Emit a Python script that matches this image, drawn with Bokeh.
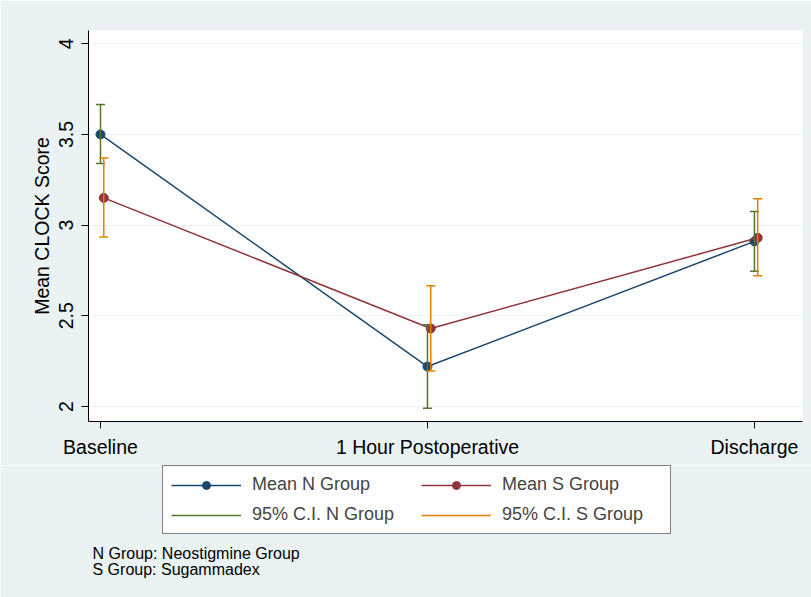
from bokeh.plotting import figure
from bokeh.layouts import column
from bokeh.models import (ColumnDataSource, FixedTicker, NumeralTickFormatter, Range1d,
                          Legend, LegendItem, Label)
from bokeh.embed import file_html
from bokeh.resources import INLINE

# ---- data ----
timepoints = ["Baseline", "1 Hour Postoperative", "Discharge"]
time_index = [0, 1, 2]

n_mean = [3.50, 2.22, 2.91]
n_lower = [3.34, 1.99, 2.745]
n_upper = [3.665, 2.45, 3.075]

s_mean = [3.15, 2.43, 2.93]
s_lower = [2.935, 2.195, 2.72]
s_upper = [3.37, 2.665, 3.145]

y_ticks = [2, 2.5, 3, 3.5, 4]
legend_labels = ["Mean N Group", "Mean S Group", "95% C.I. N Group", "95% C.I. S Group"]
notes = ["N Group: Neostigmine Group", "S Group: Sugammadex"]

# ---- style ----
BG = "#EAF2F3"
NAVY = "#1a476f"
MAROON = "#90353b"
GREEN = "#55752f"
ORANGE = "#e37e00"
FONT = "Liberation Sans"
DODGE = 0.01

n_x = list(time_index)
s_x = [t + DODGE for t in time_index]

src_n = ColumnDataSource(dict(x=n_x, m=n_mean, lo=n_lower, hi=n_upper))
src_s = ColumnDataSource(dict(x=s_x, m=s_mean, lo=s_lower, hi=s_upper))

p = figure(width=811, height=465, output_backend="svg", toolbar_location=None,
           x_range=Range1d(-0.0367, 2.147), y_range=Range1d(1.917, 4.073),
           min_border_left=88, min_border_right=9, min_border_top=30, min_border_bottom=44)
p.border_fill_color = BG
p.background_fill_color = "white"
p.outline_line_color = None

# mean lines + markers
p.line("x", "m", source=src_n, line_color=NAVY, line_width=1.5)
p.scatter("x", "m", source=src_n, size=9, fill_color=NAVY, line_color=NAVY)
p.line("x", "m", source=src_s, line_color=MAROON, line_width=1.5)
p.scatter("x", "m", source=src_s, size=9, fill_color=MAROON, line_color=MAROON)

# confidence intervals
for src, col in ((src_n, GREEN), (src_s, ORANGE)):
    p.segment("x", "lo", "x", "hi", source=src, line_color=col, line_width=1.5)
    p.scatter("x", "lo", source=src, marker="dash", size=9, line_color=col, line_width=1.5)
    p.scatter("x", "hi", source=src, marker="dash", size=9, line_color=col, line_width=1.5)

# axes
p.xaxis.ticker = FixedTicker(ticks=time_index)
p.xaxis.major_label_overrides = {i: t for i, t in zip(time_index, timepoints)}
p.yaxis.ticker = FixedTicker(ticks=y_ticks)
p.yaxis.formatter = NumeralTickFormatter(format="0.[0]")
p.yaxis.major_label_orientation = "vertical"
p.yaxis.axis_label = "Mean CLOCK Score"

for ax in (p.xaxis[0], p.yaxis[0]):
    ax.axis_line_color = "black"
    ax.axis_line_width = 1
    ax.major_tick_line_color = "black"
    ax.major_tick_out = 7
    ax.major_tick_in = 0
    ax.minor_tick_line_color = None
    ax.major_label_text_font = FONT
    ax.major_label_text_font_size = "19.5px"
    ax.major_label_text_color = "black"
    ax.axis_label_text_font = FONT
    ax.axis_label_text_font_size = "19.5px"
    ax.axis_label_text_font_style = "normal"
    ax.axis_label_text_color = "black"
p.xaxis.major_label_standoff = 7
p.yaxis.major_label_standoff = 8
p.yaxis.axis_label_standoff = 4

p.xgrid.grid_line_color = None
p.ygrid.grid_line_color = BG
p.ygrid.grid_line_width = 1.2

# ---- legend + notes panel (x in page pixels, y from panel bottom) ----
q = figure(width=811, height=132, output_backend="svg", toolbar_location=None,
           x_range=Range1d(0, 811), y_range=Range1d(0, 132),
           x_axis_location=None, y_axis_location=None, min_border=0)
q.frame_align = False
q.border_fill_color = BG
q.background_fill_color = BG
q.outline_line_color = None
q.grid.visible = False

nan = float("nan")
dummy = ColumnDataSource(dict(x=[nan], y=[nan]))
r_ln = q.line("x", "y", source=dummy, line_color=NAVY, line_width=1.5)
r_mn = q.scatter("x", "y", source=dummy, size=9, fill_color=NAVY, line_color=NAVY)
r_ls = q.line("x", "y", source=dummy, line_color=MAROON, line_width=1.5)
r_ms = q.scatter("x", "y", source=dummy, size=9, fill_color=MAROON, line_color=MAROON)
r_cn = q.line("x", "y", source=dummy, line_color=GREEN, line_width=1.5)
r_cs = q.line("x", "y", source=dummy, line_color=ORANGE, line_width=1.5)

legend = Legend(items=[
    LegendItem(label=legend_labels[0], renderers=[r_ln, r_mn]),
    LegendItem(label=legend_labels[1], renderers=[r_ls, r_ms]),
    LegendItem(label=legend_labels[2], renderers=[r_cn]),
    LegendItem(label=legend_labels[3], renderers=[r_cs]),
], orientation="horizontal", ncols=2, location=(162, 63))
legend.border_line_color = "black"
legend.border_line_width = 1
legend.background_fill_color = "white"
legend.background_fill_alpha = 1
legend.label_text_font = FONT
legend.label_text_font_size = "18px"
legend.glyph_width = 70
legend.glyph_height = 20
legend.label_height = 20
legend.label_width = 160
legend.label_standoff = 11
legend.spacing = 9
legend.padding = 8
legend.margin = 0
q.add_layout(legend, "center")

for txt, yy in zip(notes, (44, 28)):
    q.add_layout(Label(x=92, y=yy, text=txt, text_font=FONT, text_font_size="16px",
                       text_baseline="middle", text_color="black"))

layout = column(p, q, spacing=0)
open("out.html", "w").write(file_html(layout, INLINE))
